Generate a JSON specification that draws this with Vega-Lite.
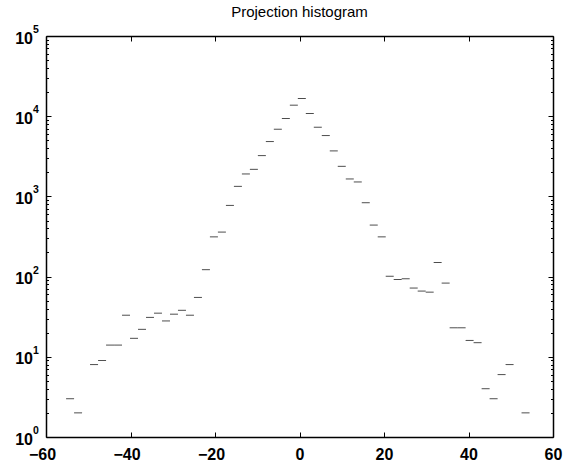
{
  "$schema": "https://vega.github.io/schema/vega-lite/v6.json",
  "width": 507,
  "height": 401,
  "autosize": "none",
  "padding": {"left": 46, "top": 36, "right": 21, "bottom": 26},
  "background": "white",
  "config": {
    "view": {"stroke": null},
    "axis": {"grid": false, "domainColor": "black", "tickColor": "black", "labelColor": "black", "titleColor": "black"}
  },
  "title": {
    "text": "Projection histogram",
    "font": "Liberation Sans",
    "fontSize": 15,
    "fontWeight": "normal",
    "color": "black",
    "anchor": "middle",
    "frame": "group",
    "offset": 5
  },
  "data": {
    "values": [
      {"x": -54.30, "count": 3},
      {"x": -52.41, "count": 2},
      {"x": -48.63, "count": 8},
      {"x": -46.73, "count": 9},
      {"x": -44.84, "count": 14},
      {"x": -42.95, "count": 14},
      {"x": -41.06, "count": 33},
      {"x": -39.17, "count": 17},
      {"x": -37.28, "count": 22},
      {"x": -35.39, "count": 31},
      {"x": -33.50, "count": 35},
      {"x": -31.60, "count": 28},
      {"x": -29.71, "count": 34},
      {"x": -27.82, "count": 38},
      {"x": -25.93, "count": 33},
      {"x": -24.04, "count": 55},
      {"x": -22.15, "count": 122},
      {"x": -20.26, "count": 313},
      {"x": -18.37, "count": 359},
      {"x": -16.47, "count": 772},
      {"x": -14.58, "count": 1334},
      {"x": -12.69, "count": 1905},
      {"x": -10.80, "count": 2175},
      {"x": -8.91, "count": 3226},
      {"x": -7.02, "count": 4830},
      {"x": -5.13, "count": 6879},
      {"x": -3.23, "count": 9355},
      {"x": -1.34, "count": 13725},
      {"x": 0.55, "count": 16640},
      {"x": 2.44, "count": 10810},
      {"x": 4.33, "count": 7286},
      {"x": 6.22, "count": 5738},
      {"x": 8.11, "count": 3693},
      {"x": 10.00, "count": 2371},
      {"x": 11.90, "count": 1650},
      {"x": 13.79, "count": 1514},
      {"x": 15.68, "count": 834},
      {"x": 17.57, "count": 439},
      {"x": 19.46, "count": 313},
      {"x": 21.35, "count": 101},
      {"x": 23.24, "count": 92},
      {"x": 25.13, "count": 94},
      {"x": 27.03, "count": 72},
      {"x": 28.92, "count": 66},
      {"x": 30.81, "count": 64},
      {"x": 32.70, "count": 150},
      {"x": 34.59, "count": 83},
      {"x": 36.48, "count": 23},
      {"x": 38.37, "count": 23},
      {"x": 40.26, "count": 16},
      {"x": 42.15, "count": 15},
      {"x": 44.05, "count": 4},
      {"x": 45.94, "count": 3},
      {"x": 47.83, "count": 6},
      {"x": 49.72, "count": 8},
      {"x": 53.50, "count": 2}
    ]
  },
  "layer": [
    {
      "mark": {"type": "tick", "orient": "horizontal", "size": 8, "thickness": 1, "color": "black"},
      "encoding": {
        "x": {
          "field": "x", "type": "quantitative",
          "scale": {"domain": [-60, 60], "nice": false, "zero": false},
          "axis": {
            "orient": "bottom", "values": [-60, -40, -20, 0, 20, 40, 60], "title": null, "format": "d",
            "labelFont": "Liberation Sans", "labelFontSize": 16, "labelFontWeight": "bold",
            "labelPadding": 14, "tickSize": -5, "tickWidth": 1, "domainWidth": 1.5,
            "labelFlush": false, "labelOverlap": false, "labelBound": false,
            "labelOffset": {"condition": {"test": "datum.value < 0", "value": -4}, "value": 0}
          }
        },
        "y": {
          "field": "count", "type": "quantitative",
          "scale": {"type": "log", "domain": [1, 100000], "nice": false},
          "axis": {
            "orient": "left", "values": [1, 10, 100, 1000, 10000, 100000], "title": null,
            "labelExpr": "'10'",
            "labelFont": "Liberation Sans", "labelFontSize": 16, "labelFontWeight": "bold",
            "labelPadding": 18.5, "tickSize": -5, "tickWidth": 1, "domainWidth": 1.5,
            "labelFlush": false, "labelOverlap": false, "labelBound": false, "labelOffset": 2
          }
        }
      }
    },
    {
      "data": {
        "values": [
          {"v": 1, "e": "0"},
          {"v": 10, "e": "1"},
          {"v": 100, "e": "2"},
          {"v": 1000, "e": "3"},
          {"v": 10000, "e": "4"},
          {"v": 100000, "e": "5"}
        ]
      },
      "mark": {"type": "text", "font": "Liberation Sans", "fontSize": 10.5, "fontWeight": "bold", "color": "black", "align": "left", "baseline": "alphabetic", "dx": -13, "dy": -3},
      "encoding": {
        "x": {"datum": -60, "type": "quantitative", "axis": null},
        "y": {"field": "v", "type": "quantitative", "axis": null},
        "text": {"field": "e"}
      }
    },
    {
      "mark": {"type": "tick", "orient": "horizontal", "size": 8, "opacity": 0},
      "encoding": {
        "x": {
          "field": "x", "type": "quantitative",
          "axis": {"orient": "top", "values": [-60, -40, -20, 0, 20, 40, 60], "title": null, "labels": false, "tickSize": -5, "tickWidth": 1, "domainWidth": 1.5}
        },
        "y": {
          "field": "count", "type": "quantitative",
          "axis": {"orient": "right", "values": [1, 10, 100, 1000, 10000, 100000], "title": null, "labels": false, "tickSize": -5, "tickWidth": 1, "domainWidth": 1.5}
        }
      }
    },
    {
      "mark": {"type": "tick", "orient": "horizontal", "size": 8, "opacity": 0},
      "encoding": {
        "x": {"field": "x", "type": "quantitative", "axis": null},
        "y": {
          "field": "count", "type": "quantitative",
          "axis": {"orient": "left", "values": [2,3,4,5,6,7,8,9,20,30,40,50,60,70,80,90,200,300,400,500,600,700,800,900,2000,3000,4000,5000,6000,7000,8000,9000,20000,30000,40000,50000,60000,70000,80000,90000], "title": null, "labels": false, "domain": false, "tickSize": -2.5, "tickWidth": 1}
        }
      }
    },
    {
      "mark": {"type": "tick", "orient": "horizontal", "size": 8, "opacity": 0},
      "encoding": {
        "x": {"field": "x", "type": "quantitative", "axis": null},
        "y": {
          "field": "count", "type": "quantitative",
          "axis": {"orient": "right", "values": [2,3,4,5,6,7,8,9,20,30,40,50,60,70,80,90,200,300,400,500,600,700,800,900,2000,3000,4000,5000,6000,7000,8000,9000,20000,30000,40000,50000,60000,70000,80000,90000], "title": null, "labels": false, "domain": false, "tickSize": -2.5, "tickWidth": 1}
        }
      }
    }
  ],
  "resolve": {"axis": {"x": "independent", "y": "independent"}}
}
